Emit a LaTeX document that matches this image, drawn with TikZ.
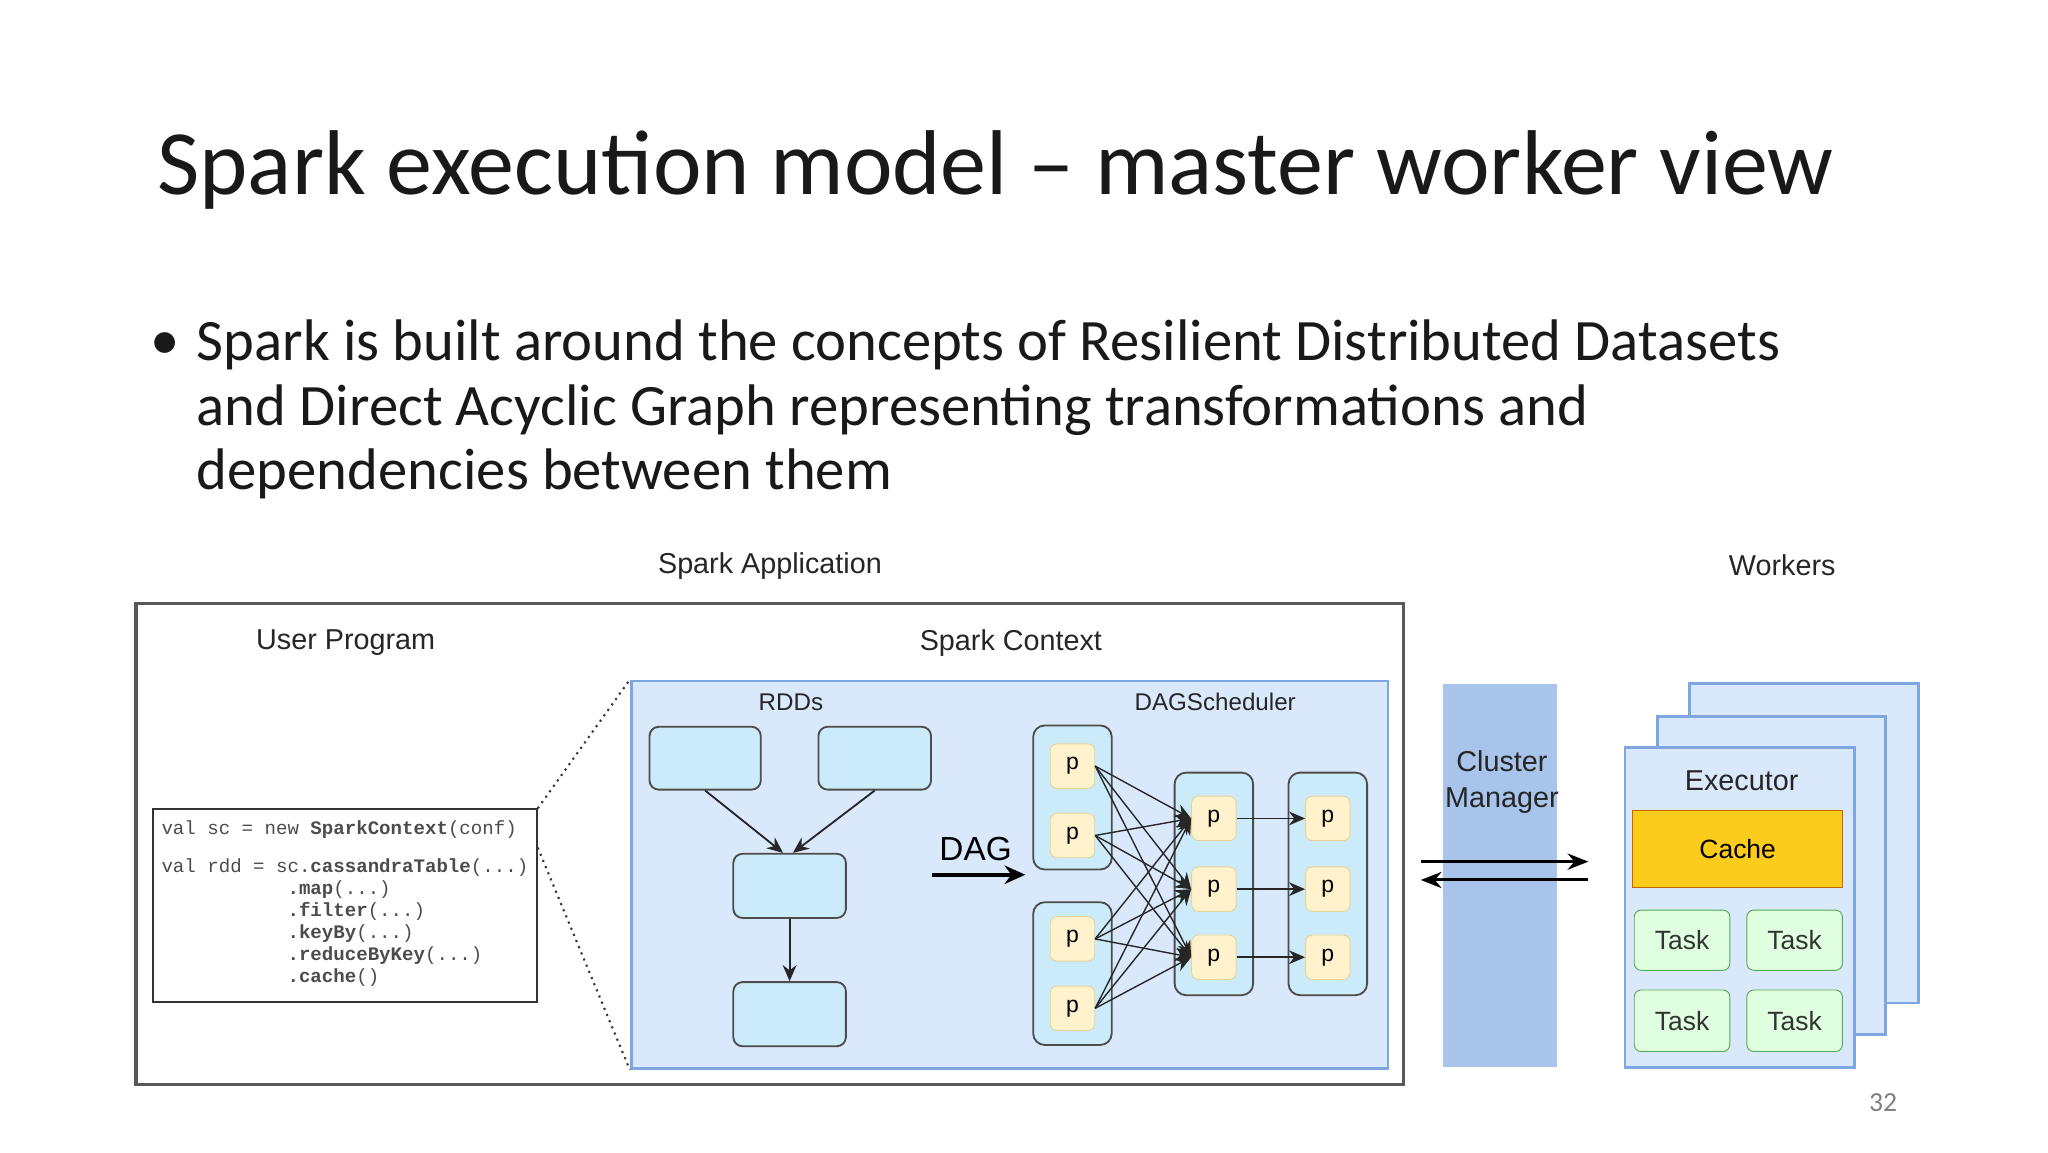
\documentclass[tikz,border=0pt]{standalone}
\usepackage{fontspec}
\setmainfont{Carlito}
\newfontfamily\dia{Liberation Sans}
\newfontfamily\cod{Liberation Mono}
\usetikzlibrary{arrows.meta}
\definecolor{sbg}{HTML}{DAE8FC}
\definecolor{sbd}{HTML}{7EA6E0}
\definecolor{rdd}{HTML}{CCEBFA}
\definecolor{pf}{HTML}{FFF2CC}
\definecolor{pb}{HTML}{D6B656}
\definecolor{cm}{HTML}{A9C4EB}
\tikzset{
 lbl/.style={font=\dia\fontsize{12.5}{15}\selectfont, text=black!85},
 sm/.style={font=\dia\fontsize{10.5}{13}\selectfont, text=black!85},
 rddbox/.style={draw=black!70, fill=rdd, rounded corners=4pt, line width=0.8pt},
 grp/.style={draw=black!70, fill=rdd, rounded corners=5pt, line width=0.8pt},
 pn/.style={draw=pb!60, fill=pf, rounded corners=3pt, minimum width=0.68cm, minimum height=0.68cm, font=\dia\fontsize{10}{12}\selectfont, inner sep=0},
 arr/.style={-{Stealth[length=7pt,width=6pt]}, line width=0.8pt, black!85},
 task/.style={draw=green!35!gray, fill=green!12!white, rounded corners=3pt, font=\dia\fontsize{11.5}{14}\selectfont, text=black!80},
}
\begin{document}
\begin{tikzpicture}[x=0.02cm,y=-0.02cm]
\fill[white] (0,0) rectangle (1564,880);
\node[anchor=west, font=\fontsize{40}{46}\selectfont, text=black!90] (title) at (114,130) {Spark execution model -- master worker view};
\node[anchor=north west, align=left, font=\fontsize{25.5}{28}\selectfont, text=black!90, inner sep=0] (bul) at (150,244)
 {Spark is built around the concepts of Resilient Distributed Datasets\\ and Direct Acyclic Graph representing transformations and\\ dependencies between them};
\node[font=\fontsize{25.5}{28}\selectfont, text=black!90] (dot) at (126,264) {\textbullet};
\node[lbl] (sa) at (588,432) {Spark Application};
\node[lbl] (wk) at (1361,432) {Workers};
\draw[black!65, line width=1.5pt] (104,461) rectangle (1072,828);
\node[lbl] (up) at (264,491) {User Program};
\node[lbl] (sc) at (772,491) {Spark Context};
\node[draw=black!80, line width=0.8pt, minimum width=5.86cm, minimum height=2.94cm] (code) at (263.5,691.5) {};
\node[anchor=north west, font=\cod\fontsize{8.3}{9.6}\selectfont, text=black!70, align=left, inner sep=0] (ct) at (123,626)
 {val sc = new \textbf{SparkContext}(conf)\\[7pt] val rdd = sc.\textbf{cassandraTable}(...)\\
 \hphantom{val rdd = s}\textbf{.map}(...)\\ \hphantom{val rdd = s}\textbf{.filter}(...)\\ \hphantom{val rdd = s}\textbf{.keyBy}(...)\\ \hphantom{val rdd = s}\textbf{.reduceByKey}(...)\\ \hphantom{val rdd = s}\textbf{.cache}()};
\node[draw=sbd, fill=sbg, line width=1.2pt, minimum width=11.56cm, minimum height=5.92cm] (ctx) at (771,668) {};
\draw[dotted, black!80, line width=0.9pt] (code.north east) -- (ctx.north west);
\draw[dotted, black!80, line width=0.9pt] ([yshift=-0.6cm]code.north east) -- (ctx.south west);
\node[sm] (rl) at (604,536) {RDDs};
\node[sm] (dl) at (928,536) {DAGScheduler};
\node[rddbox, minimum width=1.7cm, minimum height=0.96cm] (r1) at (538.5,579) {};
\node[rddbox, minimum width=1.72cm, minimum height=0.96cm] (r2) at (668,579) {};
\node[rddbox, minimum width=1.72cm, minimum height=0.98cm] (r3) at (603,676.5) {};
\node[rddbox, minimum width=1.72cm, minimum height=0.98cm] (r4) at (603,774.5) {};
\draw[arr] (r1.south) -- ([xshift=-0.1cm]r3.north);
\draw[arr] (r2.south) -- ([xshift=0.05cm]r3.north);
\draw[arr] (r3) -- (r4);
\node[font=\dia\fontsize{14.5}{17}\selectfont] (dag) at (745,648) {DAG};
\coordinate (da) at (712,668); \coordinate (db) at (783,668);
\draw[-{Stealth[length=9pt,width=8pt]}, line width=1.6pt] (da) -- (db);
\node[grp, minimum width=1.2cm, minimum height=2.2cm] (g1) at (819,609) {};
\node[grp, minimum width=1.2cm, minimum height=2.18cm] (g2) at (819,743.5) {};
\node[grp, minimum width=1.2cm, minimum height=3.4cm] (g3) at (927,675) {};
\node[grp, minimum width=1.2cm, minimum height=3.4cm] (g4) at (1014,675) {};
\foreach \n/\y in {a1/585,a2/638,a3/717,a4/770}{\node[pn] (\n) at (819,\y) {p};}
\foreach \n/\y in {b1/625,b2/679,b3/731}{\node[pn] (\n) at (927,\y) {p};}
\foreach \n/\y in {c1/625,c2/679,c3/731}{\node[pn] (\n) at (1014,\y) {p};}
\foreach \a in {a1,a2,a3,a4}{\foreach \b in {b1,b2,b3}{\draw[arr, line width=0.6pt] (\a.east) -- (\b.west);}}
\foreach \i in {1,2,3}{\draw[arr] (b\i) -- (c\i);}
\node[fill=cm, minimum width=1.74cm, minimum height=5.86cm] (cmr) at (1145.5,668.5) {};
\node[lbl, align=center, font=\dia\fontsize{12.5}{15.5}\selectfont] (cml) at (1147,597) {Cluster\\Manager};
\coordinate (m1) at (1085,658); \coordinate (m2) at (1213,658);
\coordinate (m3) at (1213,672); \coordinate (m4) at (1085,672);
\draw[-{Stealth[length=9pt,width=7pt]}, line width=1.3pt] (m1) -- (m2);
\draw[-{Stealth[length=9pt,width=7pt]}, line width=1.3pt] (m3) -- (m4);
\node[draw=sbd, fill=sbg, line width=1.2pt, minimum width=3.5cm, minimum height=4.88cm] (w3) at (1377.5,644) {};
\node[draw=sbd, fill=sbg, line width=1.2pt, minimum width=3.48cm, minimum height=4.86cm] (w2) at (1353,668.5) {};
\node[draw=sbd, fill=sbg, line width=1.2pt, minimum width=3.5cm, minimum height=4.88cm] (w1) at (1328.5,693) {};
\node[lbl] (ex) at (1330,596) {Executor};
\node[draw=orange!80!black, fill=yellow!60!orange!90, minimum width=3.2cm, minimum height=1.18cm, font=\dia\fontsize{11.5}{14}\selectfont] (cache) at (1327,648.5) {Cache};
\node[task, minimum width=1.46cm, minimum height=0.92cm] (t1) at (1284.5,718) {Task};
\node[task, minimum width=1.46cm, minimum height=0.92cm] (t2) at (1370.5,718) {Task};
\node[task, minimum width=1.46cm, minimum height=0.94cm] (t3) at (1284.5,779.5) {Task};
\node[task, minimum width=1.46cm, minimum height=0.94cm] (t4) at (1370.5,779.5) {Task};
\node[text=black!50, font=\fontsize{12}{14}\selectfont] (pg) at (1438,842) {32};
\end{tikzpicture}
\end{document}
